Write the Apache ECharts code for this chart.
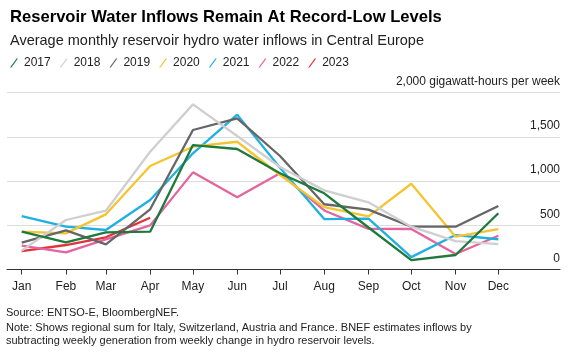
<!DOCTYPE html>
<html><head><meta charset="utf-8">
<script src="https://cdn.jsdelivr.net/npm/echarts@6/dist/echarts.min.js"></script>
<style>html,body{margin:0;padding:0;background:#fff}#c{width:568px;height:353px}</style>
</head><body><div id="c"></div>
<script>
const months = ['Jan','Feb','Mar','Apr','May','Jun','Jul','Aug','Sep','Oct','Nov','Dec'];
const years = ['2017','2018','2019','2020','2021','2022','2023'];
const colors = ['#1d7a3c','#cfcfcf','#666666','#f5c431','#1fb0e1','#e3649e','#e2323a'];
const s2017 = [428, 307, 420, 428, 1408, 1363, 1088, 862, 475, 107, 164, 636];
const s2018 = [213, 560, 665, 1332, 1868, 1510, 1160, 895, 760, 484, 322, 288];
const s2019 = [303, 443, 285, 681, 1578, 1710, 1284, 738, 678, 484, 484, 718];
const s2020 = [428, 409, 624, 1170, 1389, 1445, 1069, 706, 600, 970, 371, 458];
const s2021 = [605, 484, 447, 786, 1314, 1752, 1150, 570, 575, 140, 390, 342];
const s2022 = [270, 194, 341, 499, 1099, 816, 1088, 668, 460, 458, 175, 382];
const s2023 = [209, 277, 364, 586];
const yTicks = [0, 500, 1000, 1500, 2000];
const unitLabel = 'gigawatt-hours per week';

const seriesValues = [s2017, s2018, s2019, s2020, s2021, s2022, s2023];
const dayOffsets = months.map((m, i) => (Date.UTC(2021, i, 1) - Date.UTC(2021, 0, 1)) / 86400000);

const chart = echarts.init(document.getElementById('c'), null, {renderer: 'canvas'});
const font = 'Liberation Sans, Arial, sans-serif';
chart.setOption({
  animation: false,
  textStyle: {fontFamily: font},
  title: [
    {text: 'Reservoir Water Inflows Remain At Record-Low Levels', left: 5, top: 4,
     textStyle: {fontSize: 16.6, fontWeight: 'bold', color: '#000', fontFamily: font}},
    {text: 'Average monthly reservoir hydro water inflows in Central Europe', left: 5, top: 28,
     textStyle: {fontSize: 14.5, fontWeight: 'normal', color: '#222', fontFamily: font}}
  ],
  legend: {
    data: years, left: 5, top: 52, itemWidth: 8, itemHeight: 10, itemGap: 9,
    icon: 'path://M0,10L1.6,10L9,0L7.4,0Z',
    textStyle: {fontSize: 12, color: '#222', fontFamily: font, padding: [0,0,0,1]}
  },
  grid: {left: 7, right: 8, top: 92.7, bottom: 83.5, containLabel: false},
  xAxis: {
    type: 'value', min: -10.3, max: 377.2,
    splitLine: {show: false},
    axisLine: {lineStyle: {color: '#333', width: 1}},
    axisTick: {show: true, customValues: dayOffsets, length: 5, lineStyle: {color: '#333'}},
    axisLabel: {customValues: dayOffsets, margin: 11, fontSize: 12, color: '#222', fontFamily: font,
      formatter: v => months[dayOffsets.indexOf(v)] || ''}
  },
  yAxis: {
    type: 'value', position: 'right', min: 0, max: 2000, interval: 500,
    axisLine: {show: false}, axisTick: {show: false},
    splitLine: {lineStyle: {color: '#dddddd', width: 1}},
    axisLabel: {inside: true, margin: 0, fontSize: 12, color: '#222', fontFamily: font,
      verticalAlign: 'bottom', padding: [0, 0, 5, 0],
      formatter: v => v === yTicks[yTicks.length - 1] ? v.toLocaleString('en-US') + ' ' + unitLabel : v.toLocaleString('en-US')}
  },
  series: years.map((y, k) => ({
    name: y, type: 'line', symbol: 'none', z: 10 - k,
    color: colors[k],
    lineStyle: {width: 2.3, color: colors[k]},
    data: seriesValues[k].map((v, i) => [dayOffsets[i], v])
  })),
  graphic: [
    {type: 'text', left: 6, top: 307, style: {text: 'Source: ENTSO-E, BloombergNEF.', font: '11px ' + font, fill: '#222'}},
    {type: 'text', left: 6, top: 322, style: {text: 'Note: Shows regional sum for Italy, Switzerland, Austria and France. BNEF estimates inflows by', font: '11px ' + font, fill: '#222'}},
    {type: 'text', left: 6, top: 335, style: {text: 'subtracting weekly generation from weekly change in hydro reservoir levels.', font: '11px ' + font, fill: '#222'}}
  ]
});
</script></body></html>
